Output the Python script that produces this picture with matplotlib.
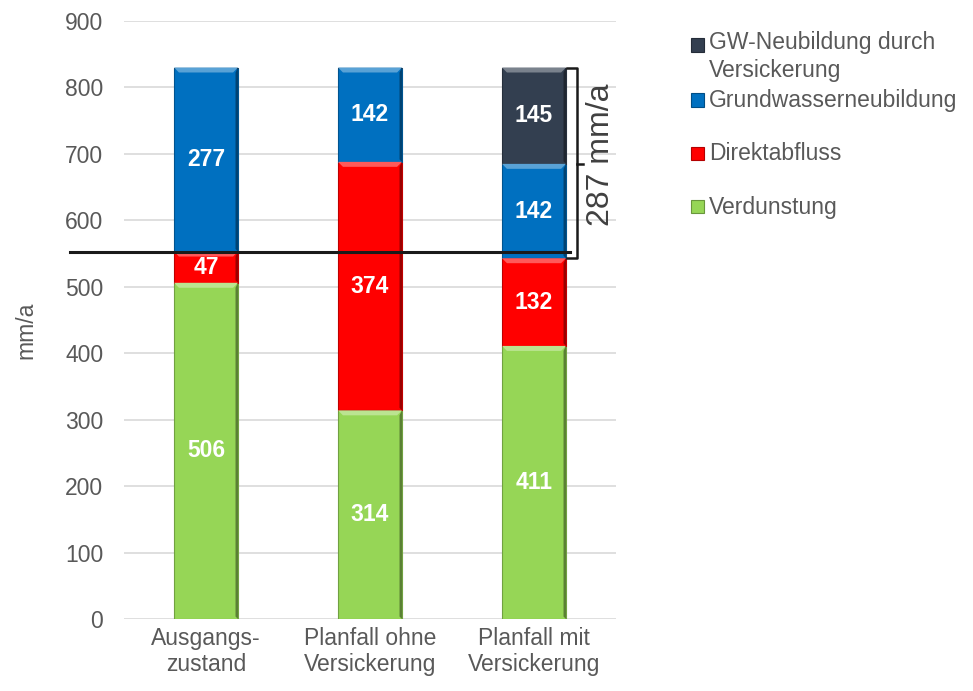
import matplotlib
matplotlib.use("Agg")
import matplotlib.pyplot as plt
from matplotlib.patches import Rectangle, Polygon
from matplotlib.colors import to_rgb
import numpy as np

plt.rcParams['font.family'] = ['Liberation Sans', 'DejaVu Sans']

categories = ["Ausgangs-\nzustand", "Planfall ohne\nVersickerung", "Planfall mit\nVersickerung"]
series_names = ["Verdunstung", "Direktabfluss", "Grundwasserneubildung",
                "GW-Neubildung durch\nVersickerung"]
verdunstung = [506, 314, 411]
direktabfluss = [47, 374, 132]
grundwasser = [277, 142, 142]
gw_versickerung = [0, 0, 145]
bracket_label = "287 mm/a"

colors = ["#96D656", "#FF0000", "#0070C0", "#333F50"]
text_grey = "#595959"

fig = plt.figure(figsize=(9.73, 6.91), dpi=100)
ax = fig.add_axes([124/973, 1-619/691, (616-124)/973, (619-21)/691])

x = np.arange(len(categories))
width = 0.39
series = [verdunstung, direktabfluss, grundwasser, gw_versickerung]


def shade(c, f):
    r, g, b = to_rgb(c)
    if f > 1:
        return tuple(min(1, v + (1 - v) * (f - 1)) for v in (r, g, b))
    return tuple(v * f for v in (r, g, b))


bottom = np.zeros(len(categories))
for vals, col in zip(series, colors):
    vals = np.array(vals, dtype=float)
    ax.bar(x, vals, width, bottom=bottom, color=col, zorder=2,
           edgecolor=shade(col, 0.75), linewidth=0.8)
    for xi, v, b in zip(x, vals, bottom):
        if v <= 0:
            continue
        top = b + v
        dx = 0.03
        dy = 7.5
        left, right = xi - width/2, xi + width/2
        # bevel: light top band, dark right edge
        ax.add_patch(Polygon([(left, top), (right, top), (right - dx, top - dy),
                              (left + dx, top - dy)], closed=True,
                             facecolor=shade(col, 1.35), edgecolor='none', zorder=3))
        ax.add_patch(Polygon([(right, top), (right, b), (right - dx*0.5, b + dy*0.5),
                              (right - dx*0.5, top - dy)], closed=True,
                             facecolor=shade(col, 0.6), edgecolor='none', zorder=3))
        ax.text(xi, b + v/2, f"{int(v)}", ha='center', va='center', color='white',
                fontsize=16.5, fontweight='bold', zorder=4)
    bottom += vals

ax.set_ylim(0, 900)
ax.set_xlim(-0.5, 2.5)
ax.set_yticks(np.arange(0, 901, 100))
ax.set_xticks(x)
ax.set_xticklabels(categories, fontsize=16.5, color=text_grey, linespacing=1.15)
ax.tick_params(axis='y', labelsize=16.5, labelcolor=text_grey, length=0, pad=15)
ax.tick_params(axis='x', length=0, pad=6)
ax.grid(axis='y', color='#D9D9D9', linewidth=1.2, zorder=0)
ax.set_axisbelow(True)
for s in ax.spines.values():
    s.set_visible(False)
ax.set_ylabel("mm/a", fontsize=16.5, color=text_grey)
ax.yaxis.set_label_coords(-0.175, 0.483)

# reference level: Verdunstung + Direktabfluss of the initial state
ref = verdunstung[0] + direktabfluss[0]
ax.plot([-0.83, 2.22], [ref, ref], color='#1a1a1a', linewidth=2.2, zorder=5, clip_on=False)

# bracket beside the third bar
b_low = verdunstung[2] + direktabfluss[2]
b_mid = b_low + grundwasser[2]
b_top = b_mid + gw_versickerung[2]
bx = 2.26
ax.plot([2.2, bx, bx, 2.2], [b_top, b_top, b_low, b_low], color='#1a1a1a',
        linewidth=1.8, clip_on=False, zorder=5)
ax.plot([bx, 2.3], [b_mid, b_mid], color='#1a1a1a', linewidth=1.8, clip_on=False, zorder=5)
ax.text(2.41, (b_top + b_low) / 2 + 12, bracket_label, rotation=90, ha='center', va='center',
        fontsize=23, color='#404040', clip_on=False)

# legend
legend_rows = [(series_names[3], colors[3], 45), (series_names[2], colors[2], 100),
               (series_names[1], colors[1], 153), (series_names[0], colors[0], 207)]
for name, col, ypx in legend_rows:
    s = 13
    fig.add_artist(Rectangle((691/973, 1 - (ypx + s/2)/691), s/973, s/691,
                             transform=fig.transFigure, facecolor=col,
                             edgecolor=shade(col, 0.7), linewidth=0.8))
    if '\n' in name:
        fig.text(709/973, 1 - (ypx - 14)/691, name, ha='left', va='top',
                 fontsize=16.5, color=text_grey, linespacing=1.3)
    else:
        fig.text(709/973, 1 - ypx/691, name, ha='left', va='center',
                 fontsize=16.5, color=text_grey)

fig.savefig("out.png", dpi=100, facecolor='white')
